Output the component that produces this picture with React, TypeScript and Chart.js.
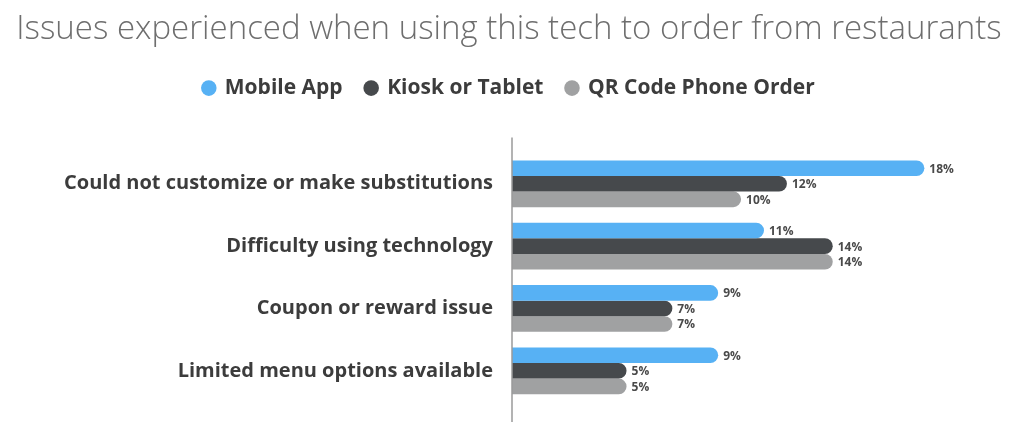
import React, { useEffect, useRef } from 'react';
import { Chart, registerables } from 'chart.js';
import type { Plugin } from 'chart.js';

Chart.register(...registerables);

const categories = [
  'Could not customize or make substitutions',
  'Difficulty using technology',
  'Coupon or reward issue',
  'Limited menu options available',
];
const mobileApp = [18, 11, 9, 9];
const kioskTablet = [12, 14, 7, 5];
const qrCode = [10, 14, 7, 5];

const seriesNames = ['Mobile App', 'Kiosk or Tablet', 'QR Code Phone Order'];
const seriesColors = ['#57b1f4', '#46494c', '#a0a1a2'];

const FONT = '"Open Sans", sans-serif';

// extra room under the legend
const legendGap: Plugin<'bar'> = {
  id: 'legendGap',
  beforeInit(chart) {
    const legend = chart.legend as any;
    if (!legend) return;
    const origFit = legend.fit;
    legend.fit = function () {
      origFit.call(this);
      this.height += 44;
    };
  },
};

// value labels at bar ends + the tall vertical axis line
const extrasPlugin: Plugin<'bar'> = {
  id: 'extras',
  afterDatasetsDraw(chart) {
    const { ctx, chartArea, scales } = chart;
    const x0 = scales.x.getPixelForValue(0);
    ctx.save();
    ctx.strokeStyle = '#9a9a9a';
    ctx.lineWidth = 1.5;
    ctx.beginPath();
    ctx.moveTo(x0, chartArea.top - 15);
    ctx.lineTo(x0, chartArea.bottom + 20);
    ctx.stroke();

    ctx.font = `bold 12px ${FONT}`;
    ctx.fillStyle = '#4a4a4a';
    ctx.textAlign = 'left';
    ctx.textBaseline = 'middle';
    chart.data.datasets.forEach((ds, i) => {
      const meta = chart.getDatasetMeta(i);
      meta.data.forEach((bar, j) => {
        const v = ds.data[j] as number;
        ctx.fillText(`${v}%`, bar.x + 5, bar.y + 1);
      });
    });
    ctx.restore();
  },
};

export default function App() {
  const canvasRef = useRef<HTMLCanvasElement | null>(null);

  useEffect(() => {
    if (!canvasRef.current) return;
    const chart = new Chart(canvasRef.current, {
      type: 'bar',
      data: {
        labels: categories,
        datasets: [mobileApp, kioskTablet, qrCode].map((d, i) => ({
          label: seriesNames[i],
          data: d,
          backgroundColor: seriesColors[i],
          borderRadius: 8,
          barPercentage: 1,
          categoryPercentage: 0.75,
        })),
      },
      options: {
        indexAxis: 'y',
        responsive: false,
        animation: false,
        layout: { autoPadding: false, padding: { top: 10, right: 8, bottom: 17, left: 2 } },
        plugins: {
          title: {
            display: true,
            text: 'Issues experienced when using this tech to order from restaurants',
            color: '#6e6e6e',
            font: { family: FONT, size: 33, weight: 300 },
            padding: { top: 0, bottom: 5 },
          },
          legend: {
            display: true,
            labels: {
              usePointStyle: true,
              pointStyle: 'circle',
              boxWidth: 11,
              boxHeight: 11,
              padding: 23,
              color: '#3c3c3c',
              font: { family: FONT, size: 21, weight: 'bold' },
            },
          },
          tooltip: { enabled: false },
        },
        scales: {
          x: {
            display: false,
            min: 0,
            max: 22,
          },
          y: {
            grid: { display: false },
            border: { display: false },
            ticks: {
              color: '#3c3c3c',
              padding: 11,
              font: { family: FONT, size: 20, weight: 'bold' },
            },
            afterFit(scale) {
              scale.width = 510;
            },
          },
        },
      },
      plugins: [legendGap, extrasPlugin],
    });
    return () => chart.destroy();
  }, []);

  return (
    <div style={{ position: 'absolute', left: 0, top: 0, width: 1024, height: 425, background: '#fff' }}>
      <canvas ref={canvasRef} width={1024} height={425} style={{ display: 'block' }} />
    </div>
  );
}
